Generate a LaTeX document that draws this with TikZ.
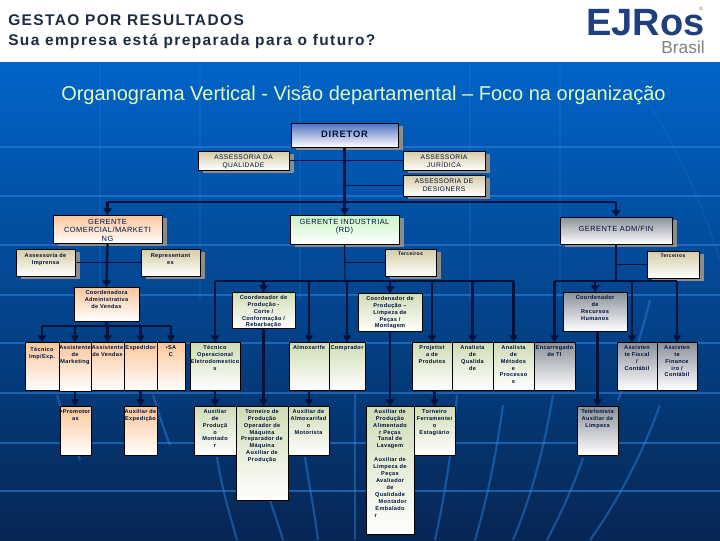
\documentclass[tikz,border=0pt]{standalone}
\usepackage{fontspec}
\setmainfont{Liberation Sans}
\newfontfamily\boxfont[LetterSpace=6]{Liberation Sans}
\newfontfamily\headfont[LetterSpace=9]{Liberation Sans}
\usetikzlibrary{arrows.meta,shadows,calc}
\definecolor{inkc}{HTML}{00113A}
\definecolor{orangeT}{HTML}{FBC598}
\definecolor{greenT}{HTML}{CFDCB4}
\definecolor{grayT}{HTML}{8A8F98}
\definecolor{sandT}{HTML}{D5CBA4}
\definecolor{mintT}{HTML}{C8F5C4}
\definecolor{dirT}{HTML}{4F6FBE}
\definecolor{streak}{HTML}{2F86E0}
\definecolor{bgT}{HTML}{0064C8}
\definecolor{bgM}{HTML}{004EA0}
\definecolor{bgB}{HTML}{062654}
\newcommand\ctr[1]{\leavevmode\hbox to 0pt{\hss #1\hss}}
\newlength\bxw \newlength\bxh
\def\bxgap{0pt}
\newcommand\bx[8][4.2]{%
  \setlength\bxw{\dimexpr(#5pt-#3pt)*3/4\relax}%
  \setlength\bxh{\dimexpr(#6pt-#4pt)*3/4\relax}%
  \node[boxst,#7,minimum width=\bxw,minimum height=\bxh] (#2) at (#3,#4)
   {\parbox[t][\dimexpr\bxh-1.4pt\relax][t]{\dimexpr\bxw-0.8pt\relax}{\centering\boxfont\fontsize{#1}{6}\selectfont\ifdim#1pt<4.9pt\bfseries\fi\baselineskip=\dimexpr#1pt+1pt\relax\lineskiplimit=-10pt \vspace*{\bxgap}\leavevmode\rule{0pt}{\dimexpr#1pt+0.5pt\relax}#8}};\def\bxgap{0pt}}
\tikzset{
  boxst/.style={draw=black,line width=0.7pt,anchor=north west,inner sep=0pt,outer sep=0pt,text=inkc},
  shad/.style={drop shadow={shadow xshift=3.5pt,shadow yshift=-2.2pt,fill=black!45,opacity=1}},
  orangeb/.style={top color=orangeT,bottom color=white},
  greenb/.style={top color=greenT,bottom color=white},
  grayb/.style={top color=grayT,bottom color=white},
  sandb/.style={top color=sandT,bottom color=white},
  mintb/.style={top color=mintT,bottom color=white},
  dirb/.style={top color=dirT,bottom color=white},
  thin line/.style={draw=inkc,line width=0.85pt},
  bar/.style={draw=inkc,line width=1.7pt},
  arrow line/.style={bar,-{Triangle[length=5pt,width=6pt]}},
  band/.style={draw=streak,line width=1.4pt,opacity=.55},
  curve/.style={draw=streak,line width=1.6pt,opacity=.45},
  faint/.style={draw=streak,line width=1pt,opacity=.18},
}
\begin{document}
\begin{tikzpicture}[x=0.75pt,y=-0.75pt]
\useasboundingbox (0,0) rectangle (720,540);
\fill[white] (0,0) rectangle (720,62);
\shade[top color=bgT,middle color=bgM,bottom color=bgB] (0,62) rectangle (720,540);
% background bands and streaks
\foreach \yy in {147,196,245,295,343,393,443,491}{\draw[band] (0,\yy) -- (720,\yy);}
\foreach \xx in {100,200,300,470,560}{\draw[faint] (\xx,62) -- (\xx,300);}
\draw[faint] (640,90) .. controls (680,150) and (700,200) .. (720,260);
\draw[curve] (57,395) .. controls (65,420) and (72,440) .. (80,460);
\draw[curve] (153,395) .. controls (158,410) and (162,425) .. (170,445);
\draw[curve] (217,457) .. controls (222,490) and (230,515) .. (237,540);
\draw[curve] (270,500) .. controls (275,515) and (280,530) .. (283,540);
\draw[curve] (305,457) .. controls (310,490) and (315,515) .. (318,540);
\draw[curve] (355,393) -- (355,540);
\draw[curve] (457,395) .. controls (452,450) and (444,500) .. (435,540);
\draw[curve] (503,405) .. controls (497,450) and (487,500) .. (475,540);
\draw[curve] (553,395) .. controls (544,450) and (530,500) .. (513,540);
\draw[curve] (583,458) .. controls (572,490) and (560,515) .. (547,540);
\draw[curve] (660,405) .. controls (640,460) and (615,505) .. (590,540);
\draw[curve] (650,300) .. controls (640,340) and (630,370) .. (618,400);
% header
\node[anchor=west,inner sep=0pt,text={rgb,255:red,30;green,44;blue,66}] (h1) at (8,20.5)
  {\headfont\fontsize{11.6}{12}\selectfont\bfseries GESTAO POR RESULTADOS};
\node[anchor=west,inner sep=0pt,text={rgb,255:red,30;green,44;blue,66}] (h2) at (8,41)
  {\headfont\fontsize{11.6}{12}\selectfont\bfseries Sua empresa está preparada para o futuro?};
\node[anchor=base east,inner sep=0pt,text={rgb,255:red,31;green,63;blue,127}] (logo) at (705,35.5)
  {\fontsize{28.5}{28}\selectfont\bfseries EJRos};
\node[anchor=base east,inner sep=0pt,text=black!50] (logob) at (705,53)
  {\fontsize{13}{13}\selectfont Brasil};
\node[anchor=center,inner sep=0pt,text=black!50] (logor) at (701,9)
  {\fontsize{4}{4}\selectfont ®};
\node[anchor=west,inner sep=0pt,text={rgb,255:red,225;green,250;blue,190}] (title) at (61,95)
  {\fontsize{15}{15}\selectfont Organograma Vertical - Visão departamental – Foco na organização};
% top boxes
\def\bxgap{2.3pt}\bx[7]{dir}{291}{123}{398}{147}{dirb,shad}{\headfont\bfseries DIRETOR}
\bx[5]{aq}{198}{151}{289}{170}{sandb,shad}{ASSESSORIA DA\\QUALIDADE}
\bx[5]{aj}{403}{151}{485}{170}{sandb,shad}{ASSESSORIA\\JURÍDICA}
\bx[5]{ad}{403}{175}{485}{196}{sandb,shad}{ASSESSORIA DE\\DESIGNERS}
\bx[5.6]{gc}{53}{215}{162}{243}{orangeb,shad}{GERENTE\\COMERCIAL/MARKETI\\NG}
\bx[5.6]{gi}{290}{215}{399}{244}{mintb,shad}{GERENTE INDUSTRIAL\\(RD)}
\def\bxgap{3.7pt}\bx[5.6]{ga}{560}{217}{672}{244}{grayb,shad}{GERENTE ADM/FIN}
\def\bxgap{1.2pt}\bx[4.2]{imp}{16}{249}{75}{276}{sandb,shad}{Assessoria de\\Imprensa}
\def\bxgap{1.2pt}\bx[4.2]{rep}{141}{249}{200}{276}{sandb,shad}{Representant\\es}
\bx[3.8]{ter}{385}{249}{436}{276}{sandb,shad}{Terceiros}
\bx[3.8]{tea}{647}{251}{699}{278}{sandb,shad}{Terceiros}
% coordinators
\bx{cav}{74}{287}{139}{321}{orangeb}{Coordenadora\\Administrativa\\de Vendas}
\bx{ccc}{232}{292}{295}{328}{greenb}{Coordenador de\\Produção -\\Corte /\\Conformação /\\Rebarbação}
\bx{ccl}{358}{293}{422}{331}{greenb}{Coordenador de\\Produção –\\Limpeza de\\Peças /\\Montagem}
\bx{crh}{563}{292}{627}{331}{grayb}{Coordenador\\de\\Recursos\\Humanos}
% third row
\def\bxgap{2pt}\bx{tim}{25}{342}{59}{390}{orangeb}{Técnico\\Imp/Exp.}
\bx{ave}{91}{342}{124}{390}{orangeb}{\ctr{Assistente}\\de Vendas}
\bx{amk}{59}{342}{91}{391}{orangeb}{\ctr{Assistente}\\de\\Marketing}
\bx{exp}{124}{342}{157}{390}{orangeb}{Expedidor}
\bx{sac}{157}{342}{185}{390}{orangeb}{•SA\\C}
\bx{top}{190}{342}{240}{390}{greenb}{Técnico\\Operacional\\\ctr{Eletrodomestico}\\s}
\bx{alm}{289}{342}{329}{390}{greenb}{Almoxarife}
\bx{com}{329}{342}{365}{390}{greenb}{Comprador}
\bx{prj}{412}{342}{452}{390}{greenb}{Projetist\\a de\\Produtos}
\bx{anq}{452}{342}{493}{390}{greenb}{Analista\\de\\Qualida\\de}
\bx{anm}{493}{342}{534}{390}{greenb}{Analista\\de\\Métodos\\e\\Processo\\s}
\bx{enc}{534}{342}{575}{390}{grayb}{\ctr{Encarregado}\\de TI}
\bx{afi}{617}{342}{657}{390}{grayb}{Assisten\\te Fiscal\\/\\Contábil}
\bx{afn}{657}{342}{697}{390}{grayb}{Assisten\\te\\Finance\\iro /\\Contábil}
% fourth row
\bx{pro}{60}{406}{91}{455}{orangeb}{\ctr{•Promotor}\\as}
\bx{aex}{124}{406}{157}{455}{orangeb}{\ctr{Auxiliar de}\\Expedição}
\bx{apm}{194}{406}{236}{455}{greenb}{Auxiliar\\de\\Produçã\\o\\Montado\\r}
\bx{tor}{236}{406}{288}{500}{greenb}{Torneiro de\\Produção\\Operador de\\Máquina\\\ctr{Preparador de}\\Máquina\\Auxiliar de\\Produção}
\bx{aal}{288}{406}{329}{455}{greenb}{Auxiliar de\\\ctr{Almoxarifad}\\o\\Motorista}
\bx{apa}{366}{406}{414}{534}{greenb}{Auxiliar de\\Produção\\Alimentado\\r Peças\\Tanal de\\Lavagem\\[5.2pt]Auxiliar de\\Limpeza de\\Peças\\Avaliador\\de\\Qualidade\\\hspace*{4pt}Montador\\Embalado\\\makebox[\linewidth][l]{\hspace*{6pt}r}}
\bx{tfe}{414}{406}{455}{455}{greenb}{Torneiro\\\ctr{Ferramentei}\\o\\Estagiário}
\bx{tel}{577}{406}{618}{455}{grayb}{Telefonista\\Auxiliar de\\Limpeza}
% connectors
\coordinate (hub) at (345,202);
\coordinate (busI) at (345,281);
\coordinate (busA) at (616,281);
\coordinate (busV) at (107,326);
\coordinate (fisin) at (632,342);
\draw[thin line] (aq.east) -- (aj.west);
\draw[thin line] (dir.south |- ad.west) -- (ad.west);
\draw[arrow line] (dir.south) -- (dir.south |- gi.north);
\draw[thin line] (gc.north |- hub) -- (ga.north |- hub);
\draw[arrow line] (gc.north |- hub) -- (gc.north);
\draw[arrow line] (ga.north |- hub) -- (ga.north);
\draw[thin line] (imp.east) -- (rep.west);
\draw[thin line] (busI |- ter.west) -- (ter.west);
\draw[thin line] (ga.south |- tea.west) -- (tea.west);
\draw[arrow line] (gc.south) -- (cav.north);
\draw[thin line] (gi.south) -- (busI);
\draw[thin line] (ga.south) -- (busA);
\draw[thin line] (top.north |- busI) -- (anm.north |- busI);
\draw[thin line] (enc.north |- busA) -- (afn.north |- busA);
\foreach \t in {top,ccc,alm,com,ccl,prj,anq,anm}{\draw[arrow line] (\t.north |- busI) -- (\t.north);}
\foreach \t in {enc,crh,afn}{\draw[arrow line] (\t.north |- busA) -- (\t.north);}
\draw[arrow line] (fisin |- busA) -- (fisin);
\draw[bar] (cav.south) -- (cav.south |- busV);
\draw[bar] (tim.north |- busV) -- (sac.north |- busV);
\foreach \t in {tim,amk,ave,exp,sac}{\draw[arrow line] (\t.north |- busV) -- (\t.north);}
\draw[arrow line] (amk.south) -- (amk.south |- pro.north);
\draw[arrow line] (exp.south) -- (aex.north);
\draw[arrow line] (top.south) -- (top.south |- apm.north);
\draw[arrow line] (ccc.south) -- (ccc.south |- tor.north);
\draw[arrow line] (alm.south) -- (alm.south |- aal.north);
\draw[arrow line] (ccl.south) -- (apa.north);
\draw[arrow line] (tfe.north |- prj.south) -- (tfe.north);
\draw[arrow line] (tel.north |- crh.south) -- (tel.north);
\end{tikzpicture}
\end{document}
